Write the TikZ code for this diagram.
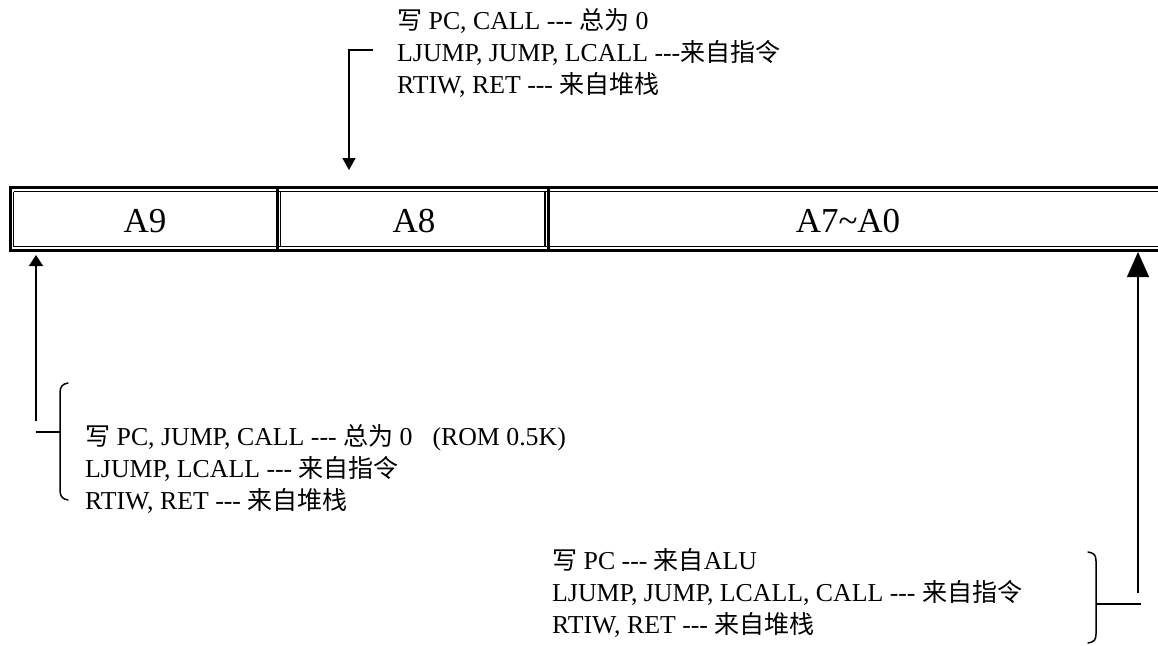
\documentclass[tikz,border=0pt]{standalone}
\usepackage{fontspec}
\setmainfont{Liberation Serif}[Ligatures=TeXOff]
\newfontfamily\cjk{Noto Sans CJK SC}[Scale=0.97]
\newcommand\zh[1]{{\cjk #1}}
\usetikzlibrary{arrows.meta}
\begin{document}
\begin{tikzpicture}[x=1pt,y=-1pt,
  lbl/.style={anchor=base west, inner sep=0pt, font=\fontsize{25.8}{32}\selectfont},
  cell/.style={inner sep=0pt, font=\fontsize{35}{40}\selectfont},
  conn/.style={line width=1.5pt},
  bracepath/.style={line width=1.5pt, line cap=round},
  heavyrule/.style={line width=3pt},
  lightrule/.style={line width=1.3pt}]
\useasboundingbox (0,0) rectangle (1158,645);

% register frame
\draw[heavyrule] (10,187.5) rectangle (1170,250.5);
\draw[lightrule] (13.5,191.5) -- (1170,191.5);
\draw[lightrule] (13.5,246.5) -- (1170,246.5);
\draw[lightrule] (13.5,191.5) -- (13.5,246.5);
\draw[heavyrule] (277,187.5) -- (277,250.5);
\draw[lightrule] (280.5,191.5) -- (280.5,246.5);
\draw[lightrule] (545,191.5) -- (545,246.5);
\draw[heavyrule] (548.5,187.5) -- (548.5,250.5);

\node[cell] (a9) at (145,221) {A9};
\node[cell] (a8) at (414,221) {A8};
\node[cell] (a7) at (848,221) {A7\textasciitilde A0};

% top text and arrow
\node[lbl] (t1) at (397,29) {\zh{写} PC, CALL --- \zh{总为} 0};
\node[lbl] (t2) at (397,61) {LJUMP, JUMP, LCALL ---\zh{来自指令}};
\node[lbl] (t3) at (397,93) {RTIW, RET --- \zh{来自堆栈}};
\coordinate (topstart) at (373,50);
\coordinate (toptip) at (349,170);
\draw[conn,-{Triangle[width=13pt,length=12pt]}] (topstart) -| (toptip);

% left text, brace and arrow
\node[lbl] (l1) at (85,445) {\zh{写} PC, JUMP, CALL --- \zh{总为} 0\hspace{20pt}(ROM 0.5K)};
\node[lbl] (l2) at (85,477) {LJUMP, LCALL --- \zh{来自指令}};
\node[lbl] (l3) at (85,509) {RTIW, RET --- \zh{来自堆栈}};
\coordinate (lbrtop) at (68,383);
\coordinate (lbrbot) at (68,500);
\draw[bracepath] (lbrtop) .. controls (62,384) and (60,387) .. (60,393) -- (60,490) .. controls (60,496) and (62,499) .. (lbrbot);
\coordinate (lbot) at (36,421);
\coordinate (ltip) at (36,255);
\draw[conn,-{Triangle[width=14pt,length=11pt]}] (lbot) -- (ltip);
\coordinate (lh) at (36,432);
\coordinate (lhb) at (60,432);
\draw[conn] (lh) -- (lhb);

% bottom right text, brace and arrow
\node[lbl] (b1) at (552,569) {\zh{写} PC --- \zh{来自}ALU};
\node[lbl] (b2) at (552,601) {LJUMP, JUMP, LCALL, CALL --- \zh{来自指令}};
\node[lbl] (b3) at (552,633) {RTIW, RET --- \zh{来自堆栈}};
\coordinate (rbrtop) at (1088,552);
\coordinate (rbrbot) at (1088,643);
\draw[bracepath] (rbrtop) .. controls (1094,553) and (1096,555) .. (1096,561) -- (1096,634) .. controls (1096,640) and (1094,642) .. (rbrbot);
\coordinate (rh) at (1096,604);
\coordinate (rhe) at (1141,604);
\draw[conn] (rh) -- (rhe);
\coordinate (rbot) at (1138,593);
\coordinate (rtip) at (1138,252);
\draw[line width=1.3pt,-{Triangle[width=22pt,length=25pt]}] (rbot) -- (rtip);
\end{tikzpicture}
\end{document}
